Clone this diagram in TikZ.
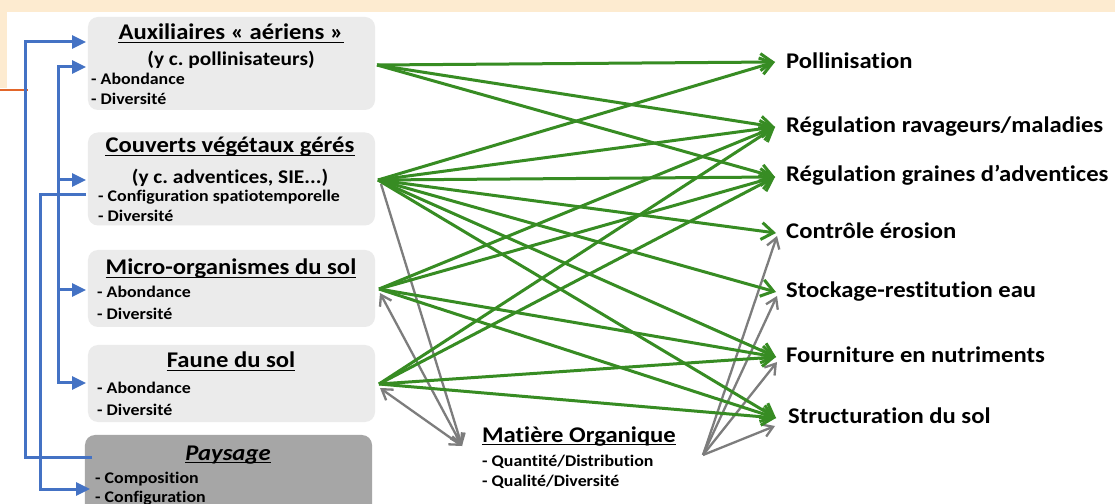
\documentclass[tikz,border=0pt]{standalone}
\usepackage{fontspec}
\setmainfont{Carlito}[FakeStretch=1.1,RawFeature={-liga;-clig;-calt;-dlig}]
\usetikzlibrary{arrows.meta}
\definecolor{gline}{RGB}{55,140,35}
\definecolor{greyline}{RGB}{125,125,125}
\definecolor{bline}{RGB}{68,114,196}
\definecolor{boxlight}{RGB}{235,235,235}
\definecolor{boxdark}{RGB}{166,166,166}
\definecolor{cream}{RGB}{253,235,208}
\definecolor{orangeline}{RGB}{226,102,42}
\begin{document}
\frenchspacing
\begin{tikzpicture}[x=1bp,y=-1bp,
  box/.style={fill=boxlight, rounded corners=10bp, minimum width=287bp, inner sep=0},
  ttl/.style={font=\bfseries\fontsize{22.5}{27}\selectfont, inner sep=0, anchor=base},
  sub/.style={font=\bfseries\fontsize{19.5}{23}\selectfont, inner sep=0, anchor=base},
  bul/.style={font=\bfseries\fontsize{16.3}{19}\selectfont, inner sep=0, anchor=base west},
  lab/.style={font=\bfseries\fontsize{22.5}{27}\selectfont, inner sep=0, anchor=base west},
  garr/.style={draw=gline, line width=3bp, -{Straight Barb[length=12bp,width=17bp]}},
  grarr/.style={draw=greyline, line width=2.3bp, -{Straight Barb[length=10bp,width=13bp]}},
  grdbl/.style={draw=greyline, line width=2.3bp, {Straight Barb[length=10bp,width=13bp]}-{Straight Barb[length=10bp,width=13bp]}},
  barr/.style={draw=bline, line width=3bp, -{Triangle[length=14bp,width=13bp]}},
  bdbl/.style={draw=bline, line width=3bp, {Triangle[length=14bp,width=13bp]}-{Triangle[length=14bp,width=13bp]}},
  ul/.style={line width=1.3bp}
]
\clip (0,0) rectangle (1115,504);
\fill[white] (0,0) rectangle (1115,504);
% background decoration
\fill[cream] (0,0) rectangle (1115,12);
\fill[cream] (0,12) rectangle (7,88);
\draw[orangeline, line width=2.5bp] (0,90) -- (28,90);

% boxes
\node[box, minimum height=93bp] (aux) at (231.5,63.5) {};
\node[box, minimum height=93bp] (cov) at (231.5,179) {};
\node[box, minimum height=77bp] (mic) at (231.5,288.5) {};
\node[box, minimum height=77bp] (fau) at (231.5,383.5) {};
\node[box, fill=boxdark, minimum height=100bp] (pay) at (228.5,485) {};

% box texts
\node[ttl] (auxT) at (231,40) {Auxiliaires « aériens »};
\node[sub] (auxS) at (231,66) {(y c. pollinisateurs)};
\node[bul] (auxB1) at (91,85) {- Abondance};
\node[bul] (auxB2) at (91,105) {- Diversité};

\node[ttl] (covT) at (230,153) {Couverts végétaux gérés};
\node[sub] (covS) at (230,184) {(y c. adventices, SIE...)};
\node[bul] (covB1) at (98,202) {- Configuration spatiotemporelle};
\node[bul] (covB2) at (98,222) {- Diversité};

\node[ttl] (micT) at (231,275) {Micro-organismes du sol};
\node[bul] (micB1) at (97,298) {- Abondance};
\node[bul] (micB2) at (97,320) {- Diversité};

\node[ttl] (fauT) at (231,368) {Faune du sol};
\node[bul] (fauB1) at (97,393) {- Abondance};
\node[bul] (fauB2) at (97,415) {- Diversité};

\node[ttl] (payT) at (228,460) {\textit{Paysage}};
\node[bul] (payB1) at (95,483) {- Composition};
\node[bul] (payB2) at (95,502) {- Configuration};

% Matiere organique
\node[ttl] (moT) at (579,442) {Matière Organique};
\node[bul] (moB1) at (482,466) {- Quantité/Distribution};
\node[bul] (moB2) at (482,486) {- Qualité/Diversité};

% underlines
\foreach \n in {auxT,covT,micT,fauT,payT,moT}
  \draw[ul] ([yshift=-2.8bp]\n.base west) -- ([yshift=-2.8bp]\n.base east);

% services
\node[lab] (pol) at (786,69) {Pollinisation};
\node[lab] (rav) at (786,133) {Régulation ravageurs/maladies};
\node[lab] (gra) at (786,182) {Régulation graines d’adventices};
\node[lab] (ero) at (786,239) {Contrôle érosion};
\node[lab] (sto) at (786,298) {Stockage-restitution eau};
\node[lab] (fou) at (786,363) {Fourniture en nutriments};
\node[lab] (str) at (788,423) {Structuration du sol};

% connector end points
\coordinate (aO) at (377,65);
\coordinate (cO) at (378,180);
\coordinate (mO) at (379,289);
\coordinate (fO) at (379,384);
\coordinate (polI) at (775,62);
\coordinate (ravI) at (775,127);
\coordinate (graI) at (775,177);
\coordinate (eroI) at (776,233);
\coordinate (stoI) at (776,292);
\coordinate (fouI) at (776,357);
\coordinate (strI) at (776,418);
\coordinate (moL) at (462,446);
\coordinate (moR) at (703,455);
\coordinate (cG) at (381,184);
\coordinate (mG) at (380,293);
\coordinate (fG) at (380,388);
\coordinate (eroG) at (777,236);
\coordinate (stoG) at (777,296);
\coordinate (fouG) at (777,362);
\coordinate (strG) at (775,426);

% grey arrows
\draw[grarr] (cG) -- (moL);
\draw[grdbl] (mG) -- (moL);
\draw[grdbl] (fG) -- (moL);
\foreach \t in {eroG,stoG,fouG,strG}
  \draw[grarr] (moR) -- (\t);

% green arrows
\foreach \t in {polI,ravI,graI}
  \draw[garr] (aO) -- (\t);
\foreach \t in {polI,ravI,graI,eroI,stoI,fouI,strI}
  \draw[garr] (cO) -- (\t);
\foreach \t in {ravI,graI,fouI,strI}
  \draw[garr] (mO) -- (\t);
\foreach \t in {ravI,graI,fouI,strI}
  \draw[garr] (fO) -- (\t);

% blue arrows
\coordinate (payOut) at (92,457);
\coordinate (auxIn1) at (86,42);
\draw[barr] (payOut) -- (25,457) -- (25,42) -- (auxIn1);
\coordinate (covOut) at (86,195);
\coordinate (payIn) at (90,489);
\draw[barr] (covOut) -- (40,195) -- (40,489) -- (payIn);
\coordinate (auxIn2) at (86,67);
\coordinate (covIn) at (86,180);
\coordinate (micIn) at (86,290);
\coordinate (fauIn) at (86,383);
\draw[bdbl] (auxIn2) -- (58,67) -- (58,383) -- (fauIn);
\draw[barr] (58,180) -- (covIn);
\draw[barr] (58,290) -- (micIn);
\end{tikzpicture}
\end{document}
